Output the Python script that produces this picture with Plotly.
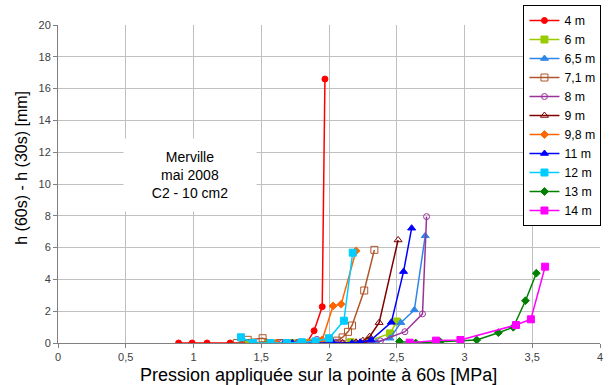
import plotly.graph_objects as go

# ---- data ----
names = ["4 m", "6 m", "6,5 m", "7,1 m", "8 m", "9 m", "9,8 m", "11 m", "12 m", "13 m", "14 m"]

x_4m = [0.89, 0.99, 1.10, 1.27, 1.84, 1.89, 1.95, 1.97]
y_4m = [0.0, 0.0, 0.0, 0.0, 0.05, 0.77, 2.28, 16.6]

x_6m = [1.41, 1.55, 1.72, 1.86, 2.00, 2.16, 2.30, 2.45, 2.50]
y_6m = [0.0, 0.0, 0.0, 0.0, 0.0, 0.05, 0.15, 0.6, 1.35]

x_65m = [1.62, 1.76, 1.90, 2.05, 2.20, 2.35, 2.45, 2.53, 2.63, 2.71]
y_65m = [0.0, 0.0, 0.0, 0.0, 0.0, 0.05, 0.3, 1.28, 2.08, 6.74]

x_71m = [1.32, 1.40, 1.51, 1.64, 1.78, 1.93, 2.06, 2.10, 2.14, 2.17, 2.26, 2.335]
y_71m = [0.0, 0.2, 0.3, 0.0, 0.0, 0.0, 0.15, 0.35, 0.7, 1.1, 3.3, 5.86]

x_8m = [1.65, 1.80, 1.91, 2.05, 2.10, 2.20, 2.30, 2.38, 2.56, 2.69, 2.72]
y_8m = [0.0, 0.0, 0.23, 0.05, 0.0, 0.0, 0.05, 0.13, 0.71, 1.83, 7.95]

x_9m = [1.70, 1.85, 2.00, 2.10, 2.20, 2.25, 2.30, 2.37, 2.51]
y_9m = [0.0, 0.0, 0.0, 0.0, 0.05, 0.15, 0.4, 1.28, 6.48]

x_98m = [1.45, 1.61, 1.72, 1.85, 1.95, 2.03, 2.09, 2.20]
y_98m = [0.0, 0.0, 0.0, 0.0, 0.2, 2.33, 2.44, 5.8]

x_11m = [1.67, 1.73, 1.88, 2.03, 2.17, 2.23, 2.31, 2.46, 2.55, 2.61]
y_11m = [0.0, 0.0, 0.0, 0.0, 0.0, 0.05, 0.19, 1.3, 4.49, 7.22]

x_12m = [1.35, 1.44, 1.57, 1.69, 1.80, 1.90, 2.00, 2.11, 2.175]
y_12m = [0.36, 0.0, 0.0, 0.0, 0.05, 0.1, 0.3, 1.4, 5.68]

x_13m = [2.52, 2.64, 2.82, 3.09, 3.25, 3.36, 3.45, 3.53]
y_13m = [0.1, 0.0, 0.08, 0.19, 0.65, 0.99, 2.66, 4.39]

x_14m = [2.595, 2.79, 2.97, 3.38, 3.49, 3.595]
y_14m = [0.02, 0.15, 0.19, 1.13, 1.49, 4.8]

xs = [x_4m, x_6m, x_65m, x_71m, x_8m, x_9m, x_98m, x_11m, x_12m, x_13m, x_14m]
ys = [y_4m, y_6m, y_65m, y_71m, y_8m, y_9m, y_98m, y_11m, y_12m, y_13m, y_14m]

colors = ["#FF0000", "#99CC00", "#2F86E8", "#B0562A", "#993399", "#800000",
          "#FF6600", "#0000FF", "#00CCFF", "#008000", "#FF00FF"]
symbols = ["circle", "square", "triangle-up", "square-open", "circle-open",
           "triangle-up-open", "diamond", "triangle-up", "square", "diamond", "square"]
sizes = [6, 7, 7, 7, 6, 7, 6, 7, 7, 6, 7]

x_ticks = [0, 0.5, 1, 1.5, 2, 2.5, 3, 3.5, 4]
y_ticks = [0, 2, 4, 6, 8, 10, 12, 14, 16, 18, 20]

fig = go.Figure()
for n, x, y, c, s, sz in zip(names, xs, ys, colors, symbols, sizes):
    fig.add_trace(go.Scatter(
        x=x, y=y, name=n, mode="lines+markers",
        line=dict(color=c, width=1.5),
        marker=dict(symbol=s, size=sz, color=c, line=dict(color=c, width=1)),
    ))

font_family = "Liberation Sans, Arial, sans-serif"

fig.update_layout(
    width=610, height=385,
    margin=dict(l=58, r=10, t=25, b=42, autoexpand=False),
    paper_bgcolor="white", plot_bgcolor="white",
    separators=", ",
    font=dict(family=font_family, color="#000000"),
    showlegend=True,
    legend=dict(
        x=0.986, xanchor="right", xref="container",
        y=0.987, yanchor="top", yref="container",
        maxheight=380,
        bgcolor="white", bordercolor="#000000", borderwidth=1,
        font=dict(size=12.3, family=font_family),
        itemwidth=30, tracegroupgap=0,
    ),
    xaxis=dict(
        range=[0, 4], tickvals=x_ticks, showgrid=True, gridcolor="#C0C0C0",
        gridwidth=1, zeroline=False, showline=True, linecolor="#808080",
        ticks="outside", ticklen=4, tickcolor="#808080", automargin=False,
        tickfont=dict(size=11, color="#404040"),
    ),
    yaxis=dict(
        range=[0, 20], tickvals=y_ticks, showgrid=True, gridcolor="#C0C0C0",
        gridwidth=1, zeroline=False, showline=True, linecolor="#808080",
        ticks="outside", ticklen=4, tickcolor="#808080", automargin=False,
        tickfont=dict(size=11, color="#404040"),
    ),
    annotations=[
        dict(x=0.975, y=10.58, xref="x", yref="y",
             text="Merville<br>mai 2008<br>C2 - 10 cm2",
             showarrow=False, bgcolor="white", width=130, height=70,
             font=dict(size=14, family=font_family, color="#000000"),
             align="center"),
        dict(x=0.4815, y=0, xref="paper", yref="paper", yanchor="middle",
             yshift=-32, text="Pression appliquée sur la pointe à 60s [MPa]",
             showarrow=False, font=dict(size=18, family=font_family, color="#000000")),
        dict(x=0, y=0.551, xref="paper", yref="paper", xanchor="center",
             xshift=-36, textangle=-90, text="h (60s) - h (30s) [mm]",
             showarrow=False, font=dict(size=16, family=font_family, color="#000000")),
    ],
)

fig.write_html("out.html", config={"displayModeBar": False},
               post_script="document.body.style.margin='0';document.body.style.overflow='hidden';")
